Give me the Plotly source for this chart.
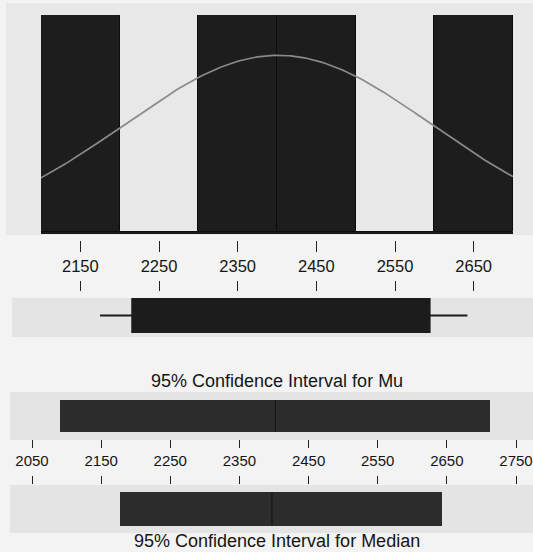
import numpy as np
import plotly.graph_objects as go

# ---------------- data ----------------
bin_centers = [2150, 2250, 2350, 2450, 2550, 2650]
bin_counts = [1, 0, 1, 1, 0, 1]
bin_width = 100
n_obs = 4
fit_mean = 2401.5
fit_sd = 196.0

box_q1 = [2216]
box_median = [2398]
box_q3 = [2594]
box_lowerfence = [2175]
box_upperfence = [2642]

ci_mu_low = 2090
ci_mu_high = 2712
ci_mu_center = 2402

ci_median_low = 2176
ci_median_high = 2642
ci_median_center = 2397

top_ticks = [2150, 2250, 2350, 2450, 2550, 2650]
ci_ticks = [2050, 2150, 2250, 2350, 2450, 2550, 2650, 2750]

W, H = 533, 552
FONT = "Liberation Sans, Arial, Helvetica, sans-serif"
TXT = "#151515"


def px_x(p):
    return p / W


def px_y(p):
    return 1 - p / H


# fitted normal curve (scaled to counts)
curve_x = np.linspace(2100, 2700, 241)
curve_y = n_obs * bin_width * np.exp(-0.5 * ((curve_x - fit_mean) / fit_sd) ** 2) / (fit_sd * np.sqrt(2 * np.pi))

fig = go.Figure()

fig.add_trace(go.Bar(
    x=bin_centers, y=bin_counts, width=bin_width,
    marker=dict(color="#1d1d1d", line=dict(color="#0c0c0c", width=1)),
    xaxis="x", yaxis="y", hoverinfo="skip"))

fig.add_trace(go.Scatter(
    x=curve_x, y=curve_y, mode="lines",
    line=dict(color="#8a8a8a", width=1.7),
    xaxis="x", yaxis="y", hoverinfo="skip"))

fig.add_trace(go.Box(
    y=[0], q1=box_q1, median=box_median, q3=box_q3,
    lowerfence=box_lowerfence, upperfence=box_upperfence,
    orientation="h", width=0.846, whiskerwidth=0,
    fillcolor="#1c1c1c", line=dict(color="#1c1c1c", width=2),
    xaxis="x2", yaxis="y2", hoverinfo="skip"))

fig.add_trace(go.Bar(
    y=[0], x=[ci_mu_high - ci_mu_low], base=[ci_mu_low], orientation="h", width=0.65,
    marker=dict(color="#2c2c2c", line=dict(width=0)),
    xaxis="x5", yaxis="y5", hoverinfo="skip"))
fig.add_trace(go.Scatter(
    x=[ci_mu_center, ci_mu_center], y=[-0.325, 0.325], mode="lines",
    line=dict(color="#181818", width=1.2), xaxis="x5", yaxis="y5", hoverinfo="skip"))

fig.add_trace(go.Bar(
    y=[0], x=[ci_median_high - ci_median_low], base=[ci_median_low], orientation="h", width=0.69,
    marker=dict(color="#2c2c2c", line=dict(width=0)),
    xaxis="x5", yaxis="y6", hoverinfo="skip"))
fig.add_trace(go.Scatter(
    x=[ci_median_center, ci_median_center], y=[-0.345, 0.345], mode="lines",
    line=dict(color="#181818", width=1.2), xaxis="x5", yaxis="y6", hoverinfo="skip"))

# invisible carriers so that the tick-only axes get drawn
for xa, ya, vals in [("x3", "y", top_ticks), ("x4", "y", top_ticks),
                     ("x6", "y5", ci_ticks), ("x7", "y5", ci_ticks)]:
    fig.add_trace(go.Scatter(x=vals, y=[0] * len(vals), mode="markers",
                             marker=dict(opacity=0, size=1), xaxis=xa, yaxis=ya,
                             hoverinfo="skip", showlegend=False))

hist_dom = [px_x(41), px_x(513)]
hist_rng = [2100, 2700]
ci_rng = [2045, 2755]
ci_dom = [px_x(28.54), px_x(519.46)]

hidden = dict(visible=False, showgrid=False, zeroline=False, fixedrange=True, automargin=False)
tick_common = dict(showgrid=False, zeroline=False, showline=False, ticks="outside",
                   tickwidth=1, tickcolor="#222222", fixedrange=True, automargin=False)

fig.update_layout(
    width=W, height=H, autosize=False,
    margin=dict(l=0, r=0, t=0, b=0, pad=0, autoexpand=False),
    paper_bgcolor="#f3f3f3", plot_bgcolor="rgba(0,0,0,0)",
    showlegend=False, bargap=0,
    font=dict(family=FONT, color=TXT),
    xaxis=dict(domain=hist_dom, range=hist_rng, anchor="y", showline=True, linecolor="#1a1a1a",
               linewidth=2, ticks="", showticklabels=False, showgrid=False, zeroline=False,
               fixedrange=True, automargin=False),
    yaxis=dict(domain=[px_y(232), px_y(15)], range=[0, 1], anchor="x", **hidden),
    xaxis2=dict(domain=hist_dom, range=hist_rng, anchor="y2", **hidden),
    yaxis2=dict(domain=[px_y(337), px_y(298)], range=[-0.551, 0.449], anchor="x2", **hidden),
    xaxis3=dict(domain=hist_dom, range=hist_rng, overlaying="x", anchor="free", position=px_y(240),
                side="bottom", ticklen=11, tickvals=top_ticks, ticktext=[str(t) for t in top_ticks],
                tickfont=dict(size=16.5, family=FONT, color=TXT), **tick_common),
    xaxis4=dict(domain=hist_dom, range=hist_rng, overlaying="x", anchor="free", position=px_y(291),
                side="top", ticklen=10, tickvals=top_ticks, showticklabels=False, **tick_common),
    xaxis5=dict(domain=ci_dom, range=ci_rng, anchor="y5", **hidden),
    yaxis5=dict(domain=[px_y(440), px_y(392)], range=[-0.5, 0.5], anchor="x5", **hidden),
    yaxis6=dict(domain=[px_y(533), px_y(485)], range=[-0.5, 0.5], anchor="x5", **hidden),
    xaxis6=dict(domain=ci_dom, range=ci_rng, overlaying="x5", anchor="free", position=px_y(439),
                side="bottom", ticklen=8, tickvals=ci_ticks, ticktext=[str(t) for t in ci_ticks],
                tickfont=dict(size=15, family=FONT, color=TXT), **tick_common),
    xaxis7=dict(domain=ci_dom, range=ci_rng, overlaying="x5", anchor="free", position=px_y(484),
                side="top", ticklen=8, tickvals=ci_ticks, showticklabels=False, **tick_common),
)

band = "#e4e4e4"
shapes = [
    dict(type="rect", xref="paper", yref="paper", x0=px_x(6), x1=1, y0=px_y(235), y1=px_y(3),
         fillcolor="#e8e8e8", line=dict(width=0), layer="below"),
    dict(type="rect", xref="paper", yref="paper", x0=px_x(12), x1=1, y0=px_y(337), y1=px_y(298),
         fillcolor=band, line=dict(width=0), layer="below"),
    dict(type="rect", xref="paper", yref="paper", x0=px_x(10), x1=1, y0=px_y(440), y1=px_y(392),
         fillcolor=band, line=dict(width=0), layer="below"),
    dict(type="rect", xref="paper", yref="paper", x0=px_x(10), x1=1, y0=px_y(533), y1=px_y(485),
         fillcolor=band, line=dict(width=0), layer="below"),
]
fig.update_layout(shapes=shapes)

fig.add_annotation(text="95% Confidence Interval for Mu", xref="paper", yref="paper",
                   x=px_x(277), y=px_y(381), xanchor="center", yanchor="middle", showarrow=False,
                   font=dict(size=18, family=FONT, color=TXT))
fig.add_annotation(text="95% Confidence Interval for Median", xref="paper", yref="paper",
                   x=px_x(277), y=px_y(541), xanchor="center", yanchor="middle", showarrow=False,
                   font=dict(size=18, family=FONT, color=TXT))

fig.write_html("out.html", config={"displayModeBar": False},
               post_script="document.body.style.margin='0';document.body.style.overflow='hidden';")
